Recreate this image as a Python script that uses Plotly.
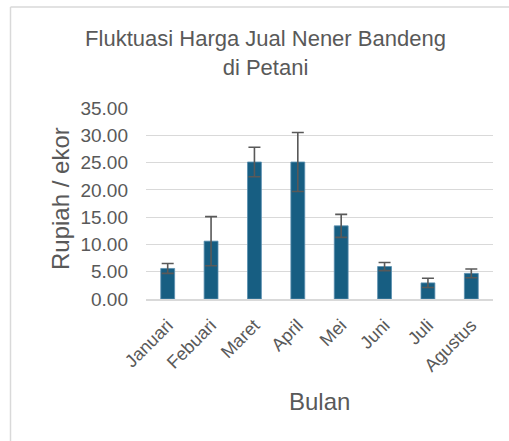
import plotly.graph_objects as go

months = ["Januari", "Febuari", "Maret", "April", "Mei", "Juni", "Juli", "Agustus"]
harga = [5.6, 10.6, 25.1, 25.1, 13.4, 5.95, 2.95, 4.7]
galat = [0.9, 4.5, 2.7, 5.4, 2.1, 0.75, 0.85, 0.8]
y_ticks = [0, 5, 10, 15, 20, 25, 30, 35]

W, H = 509, 441
ML, MR, MT, MB = 146, 16, 108, 142
PW, PH = W - ML - MR, H - MT - MB

def px_x(px):
    return (px - ML) / PW

def px_y(py):
    return (H - MB - py) / PH

FONT = "Arial, 'Liberation Sans', sans-serif"
GREY = "#595959"

fig = go.Figure(go.Bar(
    x=months, y=harga,
    marker=dict(color="#175e82", line=dict(color="#5a8fb0", width=0.8)),
    error_y=dict(type="data", array=galat, visible=True, color=GREY, thickness=1.6, width=6),
))

fig.update_layout(
    width=W, height=H,
    margin=dict(l=ML, r=MR, t=MT, b=MB),
    paper_bgcolor="white", plot_bgcolor="white",
    bargap=0.68,
    showlegend=False,
    font=dict(family=FONT, color=GREY),
    title=dict(
        text="Fluktuasi Harga Jual Nener Bandeng<br>di Petani",
        x=265.5 / W, xanchor="center", xref="container",
        y=1 - 46 / H, yanchor="top", yref="container",
        font=dict(size=22, color=GREY, family=FONT),
    ),
    xaxis=dict(
        tickangle=-45, tickfont=dict(size=18, color=GREY),
        showgrid=False, showline=True, linecolor="#d9d9d9", linewidth=1.5,
        ticks="", ticklabelstandoff=7,
    ),
    yaxis=dict(
        range=[0, 35], tickvals=y_ticks, tickformat=".2f",
        tickfont=dict(size=19, color=GREY),
        showgrid=True, gridcolor="#d9d9d9", gridwidth=1.3,
        zeroline=False, showline=False, ticks="", ticklabelstandoff=17,
    ),
    annotations=[
        dict(text="Bulan", x=0.5, y=px_y(401), xref="paper", yref="paper",
             showarrow=False, xanchor="center", yanchor="middle",
             font=dict(size=24, color=GREY, family=FONT)),
        dict(text="Rupiah / ekor", x=px_x(60), y=px_y(199), xref="paper", yref="paper",
             showarrow=False, xanchor="center", yanchor="middle", textangle=-90,
             font=dict(size=24, color=GREY, family=FONT)),
    ],
    shapes=[
        dict(type="line", xref="paper", yref="paper",
             x0=px_x(10.5), x1=px_x(10.5), y0=px_y(7), y1=px_y(445),
             line=dict(color="#d9d9d9", width=1.5)),
        dict(type="line", xref="paper", yref="paper",
             x0=px_x(10.5), x1=px_x(515), y0=px_y(7), y1=px_y(7),
             line=dict(color="#d9d9d9", width=1.5)),
    ],
)

fig.write_html("out.html", config={"displayModeBar": False},
               post_script="document.body.style.margin='0';")
